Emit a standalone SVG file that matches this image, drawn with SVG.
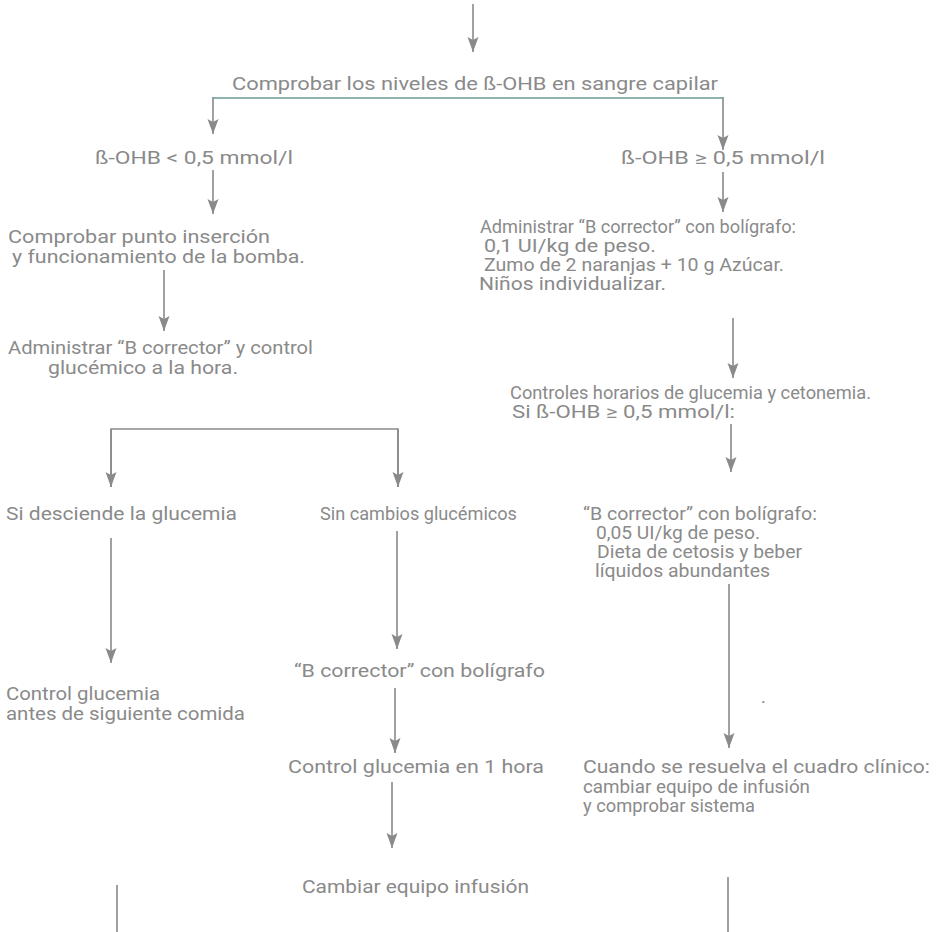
<svg xmlns="http://www.w3.org/2000/svg" width="945" height="932" viewBox="0 0 945 932">
<defs>
<marker id="ah" markerUnits="userSpaceOnUse" markerWidth="16" markerHeight="12" refX="15" refY="6" orient="auto">
<path d="M0,0.5 L15,6 L0,11.5 L3,6 z" fill="#8a8a8c"/>
</marker>
<style>
.t{font-family:"Roboto","Liberation Sans",sans-serif;font-size:18px;fill:#8a8a8a}
.c{stroke:#8a8a8c;stroke-width:1.6;fill:none}
.a{stroke:#8a8a8c;stroke-width:1.6;fill:none;marker-end:url(#ah)}
.teal{stroke:#8fb3b3;stroke-width:2;fill:none}
</style>
</defs>
<rect width="945" height="932" fill="#ffffff"/>
<g id="connectors">
<line class="a" x1="473" y1="4" x2="473" y2="52"/>
<polyline class="teal" points="213,98 723,98"/>
<line class="a" x1="213" y1="97" x2="213" y2="134"/>
<line class="a" x1="723" y1="97" x2="723" y2="150"/>
<line class="a" x1="213" y1="170" x2="213" y2="214"/>
<line class="a" x1="723" y1="172" x2="723" y2="212"/>
<line class="a" x1="164" y1="270" x2="164" y2="331"/>
<line class="a" x1="733" y1="318" x2="733" y2="378"/>
<line class="a" x1="731" y1="424" x2="731" y2="472"/>
<polyline class="c" points="111,487 111,429 398,429 398,487"/>
<line class="a" x1="111" y1="429" x2="111" y2="487"/>
<line class="a" x1="398" y1="429" x2="398" y2="487"/>
<line class="a" x1="111" y1="538" x2="111" y2="663"/>
<line class="a" x1="397" y1="531" x2="397" y2="649"/>
<line class="a" x1="395" y1="688" x2="395" y2="753"/>
<line class="a" x1="729" y1="584" x2="729" y2="748"/>
<line class="a" x1="392" y1="782" x2="392" y2="848"/>
<line class="c" x1="117" y1="885" x2="117" y2="932"/>
<line class="c" x1="728" y1="877" x2="728" y2="932"/>
</g>
<g id="n-top"><text class="t" x="232" y="90" textLength="486" lengthAdjust="spacingAndGlyphs">Comprobar los niveles de  ß-OHB en sangre capilar</text></g>
<g id="n-low"><text class="t" x="95" y="164" textLength="198" lengthAdjust="spacingAndGlyphs">ß-OHB &lt; 0,5 mmol/l</text></g>
<g id="n-high"><text class="t" x="621" y="164" textLength="204" lengthAdjust="spacingAndGlyphs">ß-OHB ≥ 0,5 mmol/l</text></g>
<g id="n-check">
<text class="t" x="8" y="243" textLength="262" lengthAdjust="spacingAndGlyphs">Comprobar punto inserción</text>
<text class="t" x="12" y="263" textLength="293" lengthAdjust="spacingAndGlyphs">y funcionamiento de la bomba.</text>
</g>
<g id="n-admin-left">
<text class="t" x="8" y="354" textLength="305" lengthAdjust="spacingAndGlyphs">Administrar “B corrector”  y control</text>
<text class="t" x="48" y="374" textLength="190" lengthAdjust="spacingAndGlyphs">glucémico a la hora.</text>
</g>
<g id="n-admin-right">
<text class="t" x="480" y="233" textLength="316" lengthAdjust="spacingAndGlyphs">Administrar “B corrector” con bolígrafo:</text>
<text class="t" x="484" y="252" textLength="172" lengthAdjust="spacingAndGlyphs">0,1 UI/kg de peso.</text>
<text class="t" x="484" y="271" textLength="300" lengthAdjust="spacingAndGlyphs">Zumo de 2 naranjas + 10 g Azúcar.</text>
<text class="t" x="479" y="290" textLength="187" lengthAdjust="spacingAndGlyphs">Niños individualizar.</text>
</g>
<g id="n-controles">
<text class="t" x="510" y="399" textLength="361" lengthAdjust="spacingAndGlyphs">Controles horarios de glucemia y cetonemia.</text>
<text class="t" x="512" y="418" textLength="223" lengthAdjust="spacingAndGlyphs">Si ß-OHB ≥ 0,5 mmol/l:</text>
</g>
<g id="n-desciende"><text class="t" x="6" y="520" textLength="231" lengthAdjust="spacingAndGlyphs">Si desciende la glucemia</text></g>
<g id="n-sincambios"><text class="t" x="320" y="520" textLength="197" lengthAdjust="spacingAndGlyphs">Sin cambios glucémicos</text></g>
<g id="n-bcorr-right">
<text class="t" x="583" y="520" textLength="234" lengthAdjust="spacingAndGlyphs">“B corrector” con bolígrafo:</text>
<text class="t" x="596" y="539" textLength="164" lengthAdjust="spacingAndGlyphs">0,05 UI/kg de peso.</text>
<text class="t" x="597" y="558" textLength="205" lengthAdjust="spacingAndGlyphs">Dieta de cetosis y beber</text>
<text class="t" x="595" y="577" textLength="175" lengthAdjust="spacingAndGlyphs">líquidos abundantes</text>
</g>
<g id="n-controlglu">
<text class="t" x="6" y="700" textLength="154" lengthAdjust="spacingAndGlyphs">Control glucemia</text>
<text class="t" x="6" y="720" textLength="239" lengthAdjust="spacingAndGlyphs">antes de siguiente comida</text>
</g>
<g id="n-bcorr-mid"><text class="t" x="294" y="677" textLength="251" lengthAdjust="spacingAndGlyphs">“B corrector” con bolígrafo</text></g>
<g id="n-dot"><text class="t" x="761" y="703">.</text></g>
<g id="n-control1h"><text class="t" x="288" y="773" textLength="256" lengthAdjust="spacingAndGlyphs">Control glucemia en 1 hora</text></g>
<g id="n-cuando">
<text class="t" x="583" y="773" textLength="347" lengthAdjust="spacingAndGlyphs">Cuando se resuelva el cuadro clínico:</text>
<text class="t" x="583" y="793" textLength="227" lengthAdjust="spacingAndGlyphs">cambiar equipo de infusión</text>
<text class="t" x="583" y="812" textLength="172" lengthAdjust="spacingAndGlyphs">y comprobar sistema</text>
</g>
<g id="n-cambiar"><text class="t" x="302" y="893" textLength="227" lengthAdjust="spacingAndGlyphs">Cambiar equipo infusión</text></g>
</svg>
